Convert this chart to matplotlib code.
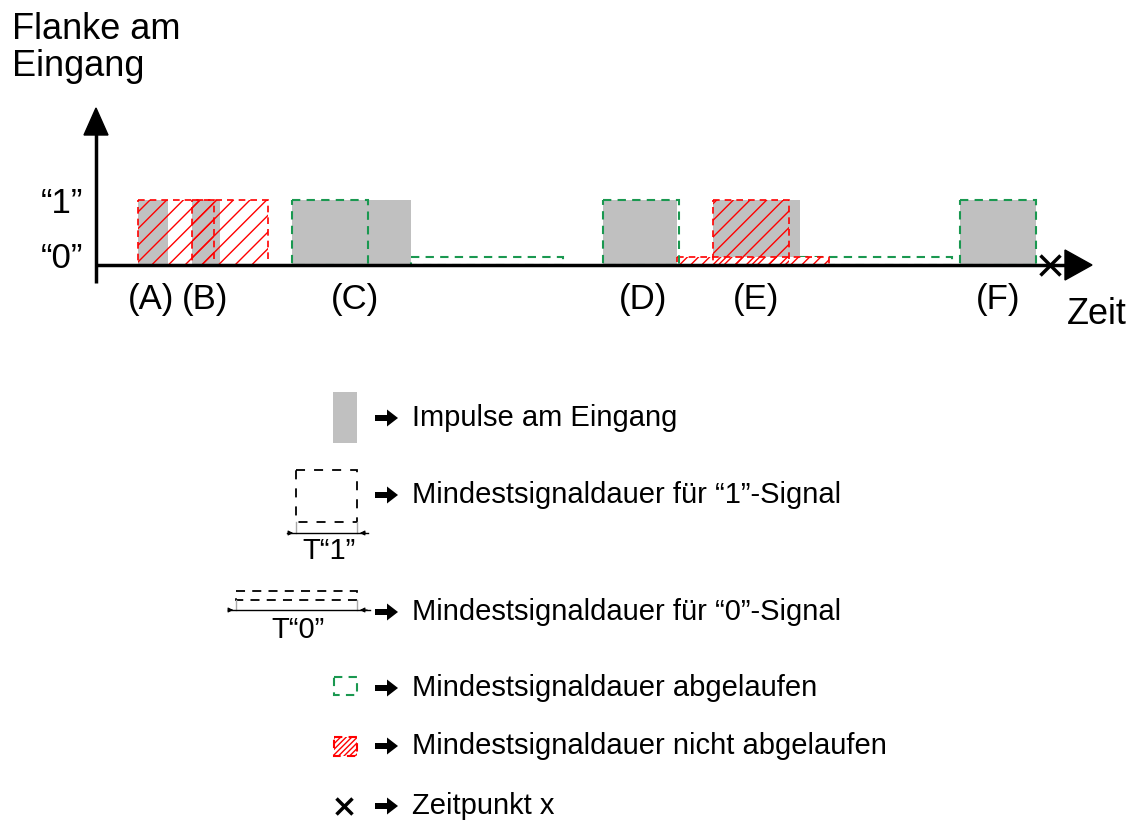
import matplotlib
matplotlib.use('Agg')
import matplotlib.pyplot as plt
from matplotlib.patches import Rectangle, Polygon, FancyArrow

plt.rcParams['font.family'] = ['Liberation Sans', 'DejaVu Sans']
plt.rcParams['hatch.linewidth'] = 1.0

# time axis positions (pixel-like time units)
pulse_start = [138, 192, 292, 603, 713, 960]
pulse_end = [168, 220, 411, 677, 800, 1036]
pulse_labels = ['(A)', '(B)', '(C)', '(D)', '(E)', '(F)']
label_x = [151, 205, 355, 643, 756, 998]

T1 = 76    # Mindestsignaldauer "1"
T0 = 152   # Mindestsignaldauer "0"
t1_start = [138, 192, 292, 603, 713, 960]
t1_done = [False, False, True, True, False, True]
t0_start = [411, 800, 677]
t0_done = [True, True, False]
t_x = 1050  # Zeitpunkt x

legend_text = ['Impulse am Eingang',
               'Mindestsignaldauer für “1”-Signal',
               'Mindestsignaldauer für “0”-Signal',
               'Mindestsignaldauer abgelaufen',
               'Mindestsignaldauer nicht abgelaufen',
               'Zeitpunkt x']
legend_y = [418, 495, 612, 688, 746, 806]

GRAY = '#c0c0c0'
GREEN = '#1a9850'
RED = '#ff0000'
Y0, Y1 = 265, 200
LOW_H = 8

fig = plt.figure(figsize=(11.36, 8.23), dpi=100)
ax = fig.add_axes([0, 0, 1, 1])
ax.set_xlim(0, 1136)
ax.set_ylim(823, 0)
ax.axis('off')

# pulses
for s, e in zip(pulse_start, pulse_end):
    ax.add_patch(Rectangle((s, Y1), e - s, Y0 - Y1, facecolor=GRAY,
                           edgecolor='none', zorder=1))

# T"1" windows
for s, ok in zip(t1_start, t1_done):
    if ok:
        ax.add_patch(Rectangle((s, Y1), T1, Y0 - Y1, fill=False, edgecolor=GREEN,
                               lw=1.5, ls=(0, (4, 3)), zorder=3))
    else:
        ax.add_patch(Rectangle((s, Y1), T1, Y0 - Y1, fill=False, edgecolor=RED,
                               lw=1.2, ls=(0, (4, 3)), hatch='//', zorder=3))

# T"0" windows
for s, ok in zip(t0_start, t0_done):
    if ok:
        ax.add_patch(Rectangle((s, Y0 - LOW_H), T0, LOW_H, fill=False, edgecolor=GREEN,
                               lw=1.5, ls=(0, (4, 3)), zorder=2))
    else:
        ax.add_patch(Rectangle((s, Y0 - LOW_H), T0, LOW_H, facecolor='white',
                               edgecolor=RED, lw=1.2, ls=(0, (4, 3)), hatch='///',
                               zorder=2.5))

# axes with arrow heads
ax.plot([96, 96], [283, 132], color='black', lw=2.5, solid_capstyle='butt', zorder=5)
ax.plot([96, 1068], [Y0, Y0], color='black', lw=2.5, solid_capstyle='butt', zorder=5)
ax.add_patch(Polygon([[84, 135], [108, 135], [96, 108]], closed=True,
                     color='black', zorder=5))
ax.add_patch(Polygon([[1065, 250], [1065, 280], [1092, 265]], closed=True,
                     color='black', zorder=5))
ax.plot([t_x], [Y0], marker='x', ms=14, mew=2.5, color='black', zorder=6)

ax.text(12, 48, 'Flanke am\nEingang', fontsize=26, ha='left', va='center',
        linespacing=1.08)
ax.text(62, 203, '“1”', fontsize=25, ha='center', va='center')
ax.text(62, 258, '“0”', fontsize=25, ha='center', va='center')
ax.text(1097, 314, 'Zeit', fontsize=26, ha='center', va='center')
for lx, lab in zip(label_x, pulse_labels):
    ax.text(lx, 300, lab, fontsize=25, ha='center', va='center')

# legend
ax.add_patch(Rectangle((333, 392), 24, 51, facecolor=GRAY, edgecolor='none'))

ax.add_patch(Rectangle((296, 470), 61, 52, fill=False, edgecolor='black',
                       lw=1.3, ls=(0, (5, 5))))
ax.plot([296, 296], [522, 533], color='#aaaaaa', lw=1)
ax.plot([357, 357], [522, 533], color='#aaaaaa', lw=1)
ax.plot([287, 368], [533, 533], color='black', lw=1)
ax.annotate('', xy=(296, 533), xytext=(287, 533),
            arrowprops=dict(arrowstyle='-|>', color='black', lw=0.8, mutation_scale=7))
ax.annotate('', xy=(357, 533), xytext=(368, 533),
            arrowprops=dict(arrowstyle='-|>', color='black', lw=0.8, mutation_scale=7))
ax.text(329, 551, 'T“1”', fontsize=21, ha='center', va='center')

ax.add_patch(Rectangle((236, 591), 121, 9, fill=False, edgecolor='black',
                       lw=1.3, ls=(0, (5, 4))))
ax.plot([236, 236], [600, 610], color='#aaaaaa', lw=1)
ax.plot([357, 357], [600, 610], color='#aaaaaa', lw=1)
ax.plot([228, 370], [610, 610], color='black', lw=1)
ax.annotate('', xy=(236, 610), xytext=(228, 610),
            arrowprops=dict(arrowstyle='-|>', color='black', lw=0.8, mutation_scale=7))
ax.annotate('', xy=(357, 610), xytext=(370, 610),
            arrowprops=dict(arrowstyle='-|>', color='black', lw=0.8, mutation_scale=7))
ax.text(298, 630, 'T“0”', fontsize=21, ha='center', va='center')

ax.add_patch(Rectangle((334, 677), 23, 18, fill=False, edgecolor=GREEN,
                       lw=1.5, ls=(0, (4, 3))))
ax.add_patch(Rectangle((334, 737), 23, 19, fill=False, edgecolor=RED,
                       lw=1.5, ls=(0, (4, 3)), hatch='//////'))
ax.plot([344], [806], marker='x', ms=12, mew=2.5, color='black')

for ly, txt in zip(legend_y, legend_text):
    ax.add_patch(FancyArrow(375, ly, 23, 0, width=6, head_width=17,
                            head_length=11, length_includes_head=True,
                            color='black', lw=0))
    ax.text(412, ly, txt, fontsize=21, ha='left', va='center')

fig.savefig('out.png', dpi=100)
